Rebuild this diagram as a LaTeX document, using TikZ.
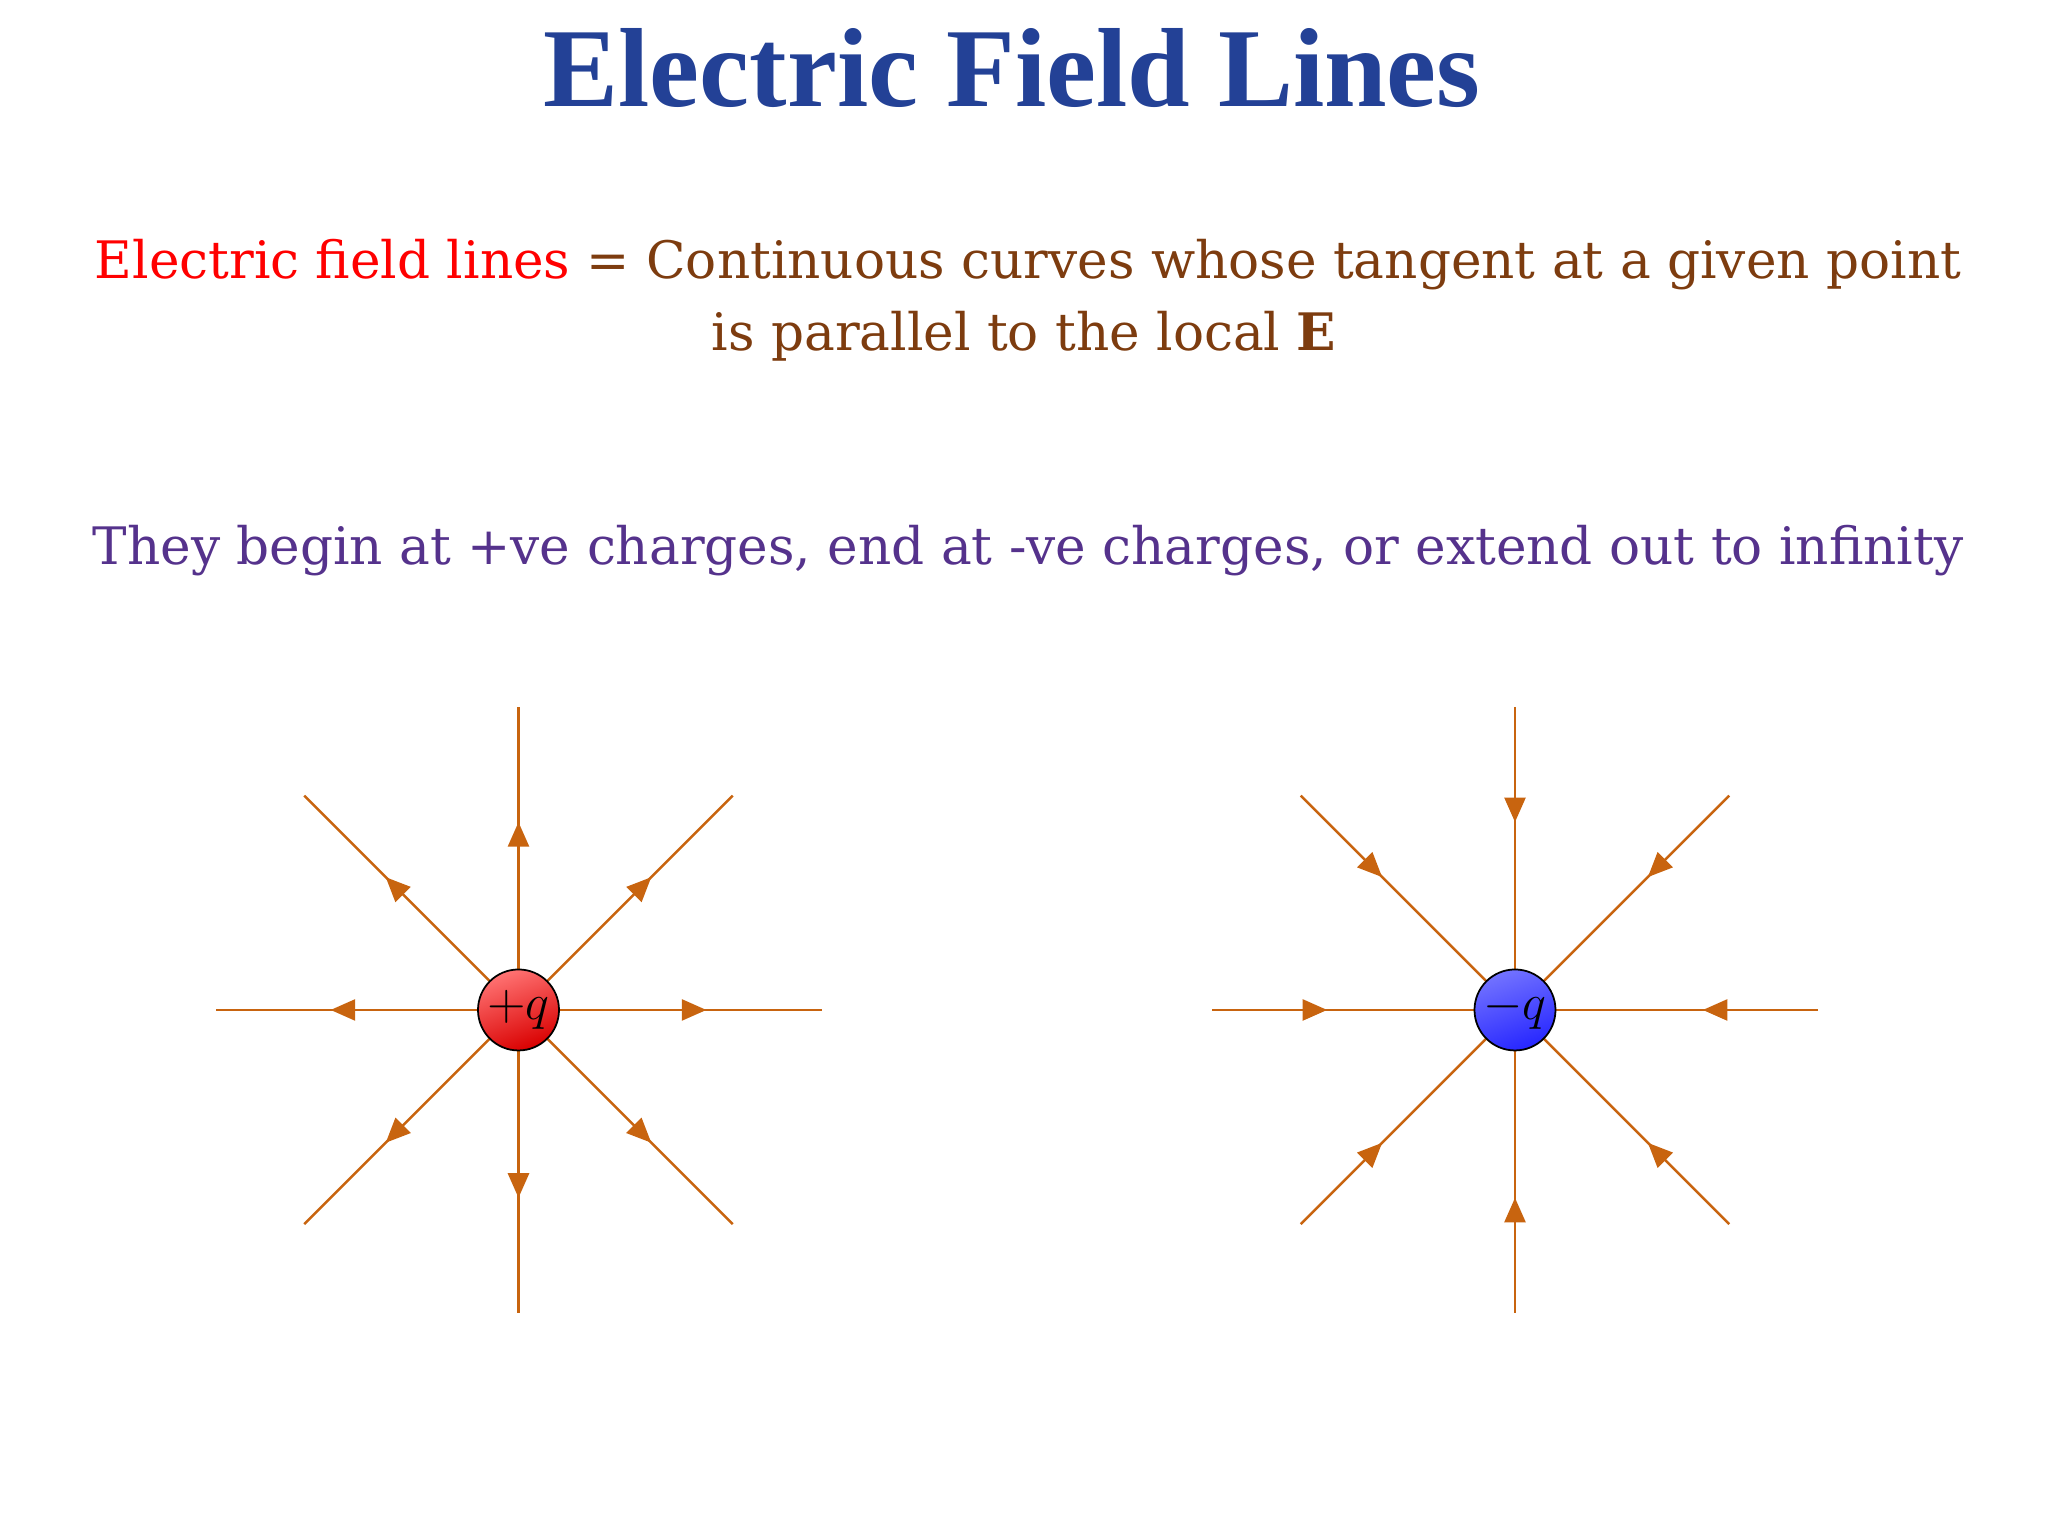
\documentclass[tikz,border=0pt]{standalone}
\usepackage{fontspec}
\setmainfont{DejaVu Serif}
\newfontfamily\titlefont{Liberation Serif}
\usetikzlibrary{decorations.markings,arrows.meta,calc}
\definecolor{titleblue}{RGB}{35,65,150}
\definecolor{defbrown}{RGB}{125,60,15}
\definecolor{lavender}{RGB}{85,50,140}
\definecolor{fieldc}{RGB}{200,100,15}
\tikzset{
  fline/.style={draw=fieldc,line width=0.7pt,postaction={decorate},
    decoration={markings,mark=at position #1 with {\arrow{Triangle[length=7pt,width=6pt]}}}},
  charge/.style={circle,draw=black,line width=0.5pt,minimum size=0.81cm,inner sep=0pt,font=\fontsize{15}{18}\selectfont},
}
\begin{document}
\begin{tikzpicture}
\useasboundingbox (0,0) rectangle (20.48,15.37);
\node[font=\titlefont\bfseries\fontsize{32}{38}\selectfont,text=titleblue] (title) at (10.12,14.69) {Electric Field Lines};
\node[font=\fontsize{14.7}{18}\selectfont,text=defbrown] (l1) at (10.28,12.72) {\textcolor{red}{Electric field lines} = Continuous curves whose tangent at a given point};
\node[font=\fontsize{14.7}{18}\selectfont,text=defbrown] (l2) at (10.24,12.01) {is parallel to the local \textbf{E}};
\node[font=\fontsize{14.7}{18}\selectfont,text=lavender] (l3) at (10.28,9.86) {They begin at +ve charges, end at -ve charges, or extend out to infinity};
% positive
\coordinate (P) at (5.185,5.27);
\foreach \a in {0,45,...,315}{
  \coordinate (pe\a) at ($(P)+(\a:3.03)$);
  \path[fline=0.62] (P) -- (pe\a);
}
\node[charge,shading=axis,top color=red!55,bottom color=red!85!black,shading angle=20] (pq) at (P) {$+q$};
% negative
\coordinate (N) at (15.15,5.27);
\foreach \a in {0,45,...,315}{
  \coordinate (ne\a) at ($(N)+(\a:3.03)$);
  \path[fline=0.38] (ne\a) -- (N);
}
\node[charge,shading=axis,top color=blue!55,bottom color=blue!85,shading angle=20] (nq) at (N) {$-q$};
\end{tikzpicture}
\end{document}
